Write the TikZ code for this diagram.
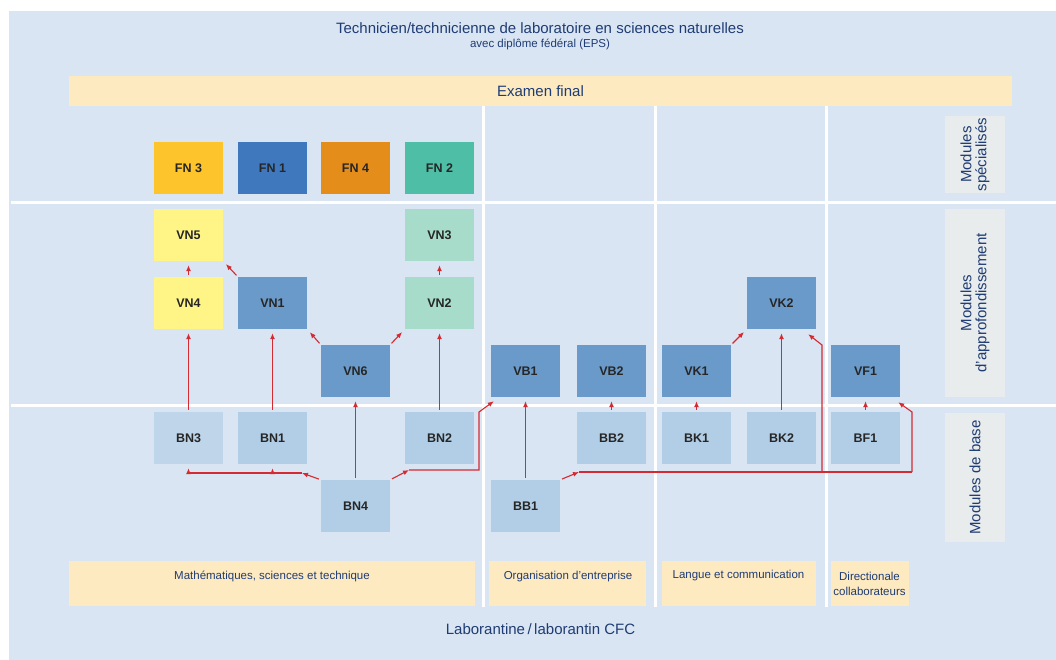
\documentclass[tikz,border=0pt]{standalone}
\usepackage{fontspec}
\setmainfont{Liberation Sans}
\usetikzlibrary{arrows.meta,positioning}

\definecolor{bgblue}{HTML}{D9E5F2}
\definecolor{bandyellow}{HTML}{FDEAC1}
\definecolor{sidegray}{HTML}{E9ECEC}
\definecolor{titleblue}{HTML}{1F3C74}
\definecolor{arrowred}{HTML}{D52A32}
\definecolor{fnYellow}{HTML}{FDC42B}
\definecolor{fnBlue}{HTML}{3F78BD}
\definecolor{fnOrange}{HTML}{E48D1B}
\definecolor{fnGreen}{HTML}{4EBFA6}
\definecolor{vnYellow}{HTML}{FFF586}
\definecolor{vnGreen}{HTML}{A6DCC9}
\definecolor{vBlue}{HTML}{6A9AC9}
\definecolor{bBlue}{HTML}{B2CEE6}

\begin{document}
\begin{tikzpicture}[
		x=1pt,y=-1pt,
		module/.style = {rectangle, minimum width=69pt, minimum height=52pt, inner sep=0pt,
			font=\bfseries\fontsize{12.5}{14}\selectfont, text=black!85},
		band/.style = {rectangle, fill=bandyellow, inner sep=0pt},
		bandtext/.style = {anchor=center, align=center, text=titleblue, font=\fontsize{11.5}{15}\selectfont},
		side/.style = {rectangle, fill=sidegray, rotate=90, inner sep=0pt, align=center,
			text=titleblue, font=\fontsize{15}{15}\selectfont},
		sep/.style = {draw=white, line width=3pt},
		dep/.style = {color=arrowred, line width=1.1pt, -{Latex[length=6pt,width=5pt]},
			shorten >=4pt, shorten <=2pt},
		tap/.style = {dep, shorten <=0pt},
		link/.style = {draw=arrowred, line width=1.1pt}
	]
	\useasboundingbox (0,0) rectangle (1056,660);
	\fill [bgblue] (9,11) rectangle (1056,660);

	% titles and bands
	\node (title) [text=titleblue, font=\fontsize{15}{15}\selectfont] at (540,28)
		{Technicien/technicienne de laboratoire en sciences naturelles};
	\node (subtitle) [text=titleblue, font=\fontsize{11.5}{12}\selectfont] at (540,44)
		{avec diplôme fédéral (EPS)};
	\node (exam) [band, minimum width=943pt, minimum height=30pt] at (540.5,91) {};
	\node (examText) [text=titleblue, font=\fontsize{15}{15}\selectfont] at (exam) {Examen final};

	% separators
	\draw [sep] (11,203) -- (1056,203);
	\draw [sep] (11,405) -- (1056,405);
	\draw [sep] (483,106) -- (483,607);
	\draw [sep] (655,106) -- (655,607);
	\draw [sep] (826,106) -- (826,607);

	% level labels
	\node (sideSpec) [side, minimum width=77pt, minimum height=60pt] at (975,154.5) {Modules\\spécialisés};
	\node (sideAppr) [side, minimum width=188pt, minimum height=60pt] at (975,303) {Modules\\d'approfondissement};
	\node (sideBase) [side, minimum width=129pt, minimum height=60pt] at (975,477.5) {Modules de base};

	% bottom bands
	\node (bMath) [band, minimum width=406pt, minimum height=45pt] at (272,583.5) {};
	\node (bOrg) [band, minimum width=157pt, minimum height=45pt] at (567.5,583.5) {};
	\node (bLang) [band, minimum width=154pt, minimum height=45pt] at (738.5,583.5) {};
	\node (bDir) [band, minimum width=78pt, minimum height=45pt] at (869.5,583.5) {};
	\node (tMath) [bandtext] at (272,576) {Mathématiques, sciences et technique};
	\node (tOrg) [bandtext] at (568,577) {Organisation d'entreprise};
	\node (tLang) [bandtext] at (738.5,576) {Langue et communication};
	\node (tDir) [bandtext] at (869.5,583.5) {Directionale\\collaborateurs};
	\node (cfc) [text=titleblue, font=\fontsize{15}{15}\selectfont] at (540.5,629) {Laborantine\,/\,laborantin CFC};

	% specialised modules
	\node (FN3) [module, fill=fnYellow] at (188.5,168) {FN 3};
	\node (FN1) [module, fill=fnBlue] at (272.5,168) {FN 1};
	\node (FN4) [module, fill=fnOrange] at (355.5,168) {FN 4};
	\node (FN2) [module, fill=fnGreen] at (439.5,168) {FN 2};

	% advanced modules
	\node (VN5) [module, fill=vnYellow] at (188.5,235) {VN5};
	\node (VN3) [module, fill=vnGreen] at (439.5,235) {VN3};
	\node (VN4) [module, fill=vnYellow] at (188.5,303) {VN4};
	\node (VN1) [module, fill=vBlue] at (272.5,303) {VN1};
	\node (VN2) [module, fill=vnGreen] at (439.5,303) {VN2};
	\node (VK2) [module, fill=vBlue] at (781.5,303) {VK2};
	\node (VN6) [module, fill=vBlue] at (355.5,371) {VN6};
	\node (VB1) [module, fill=vBlue] at (525.5,371) {VB1};
	\node (VB2) [module, fill=vBlue] at (611.5,371) {VB2};
	\node (VK1) [module, fill=vBlue] at (696.5,371) {VK1};
	\node (VF1) [module, fill=vBlue] at (865.5,371) {VF1};

	% basic modules
	\node (BN3) [module, fill=bBlue!85!white] at (188.5,438) {BN3};
	\node (BN1) [module, fill=bBlue] at (272.5,438) {BN1};
	\node (BN2) [module, fill=bBlue] at (439.5,438) {BN2};
	\node (BB2) [module, fill=bBlue] at (611.5,438) {BB2};
	\node (BK1) [module, fill=bBlue] at (696.5,438) {BK1};
	\node (BK2) [module, fill=bBlue] at (781.5,438) {BK2};
	\node (BF1) [module, fill=bBlue] at (865.5,438) {BF1};
	\node (BN4) [module, fill=bBlue] at (355.5,506) {BN4};
	\node (BB1) [module, fill=bBlue] at (525.5,506) {BB1};

	% junctions
	\coordinate (jL) at (302,473);
	\coordinate (jR) at (409,470);
	\coordinate (kR) at (479,470);
	\coordinate (kRu) at (479,412);
	\coordinate (jB) at (579,472);
	\coordinate (kK) at (822,472);
	\coordinate (kKu) at (822,345);
	\coordinate (kF) at (912,472);
	\coordinate (kFu) at (912,412);

	\path [dep] (VN4) edge (VN5);
	\path [dep] (VN1.north west) edge (VN5.south east);
	\path [dep] (BN3) edge (VN4);
	\path [dep] (BN1) edge (VN1);
	\path [dep] (BN4) edge (VN6);
	\path [dep] (VN6.north west) edge (VN1.south east);
	\path [dep] (VN6.north east) edge (VN2.south west);
	\path [dep] (VN2) edge (VN3);
	\path [dep] (BN2) edge (VN2);
	\path [dep] (BB1) edge (VB1);
	\path [dep] (BB2) edge (VB2);
	\path [dep] (BK1) edge (VK1);
	\path [dep] (BK2) edge (VK2);
	\path [dep] (BF1) edge (VF1);
	\path [dep] (VK1.north east) edge (VK2.south west);

	\path [dep, shorten >=0pt] (BN4.north west) edge (jL);
	\draw [link] (jL) -- (jL -| BN3);
	\path [tap] (jL -| BN3) edge (BN3);
	\path [tap] (jL -| BN1) edge (BN1);

	\path [dep, shorten >=0pt] (BN4.north east) edge (jR);
	\draw [tap, shorten >=0pt] (jR) -- (kR) -- (kRu) -- ([shift={(3pt,-4pt)}]VB1.south west);

	\path [dep, shorten >=0pt] (BB1.north east) edge (jB);
	\draw [link] (jB) -- (kF);
	\draw [tap, shorten >=0pt] (kK) -- (kKu) -- ([shift={(-8pt,-5pt)}]VK2.south east);
	\draw [tap, shorten >=0pt] (kF) -- (kFu) -- ([shift={(-2pt,-5pt)}]VF1.south east);
\end{tikzpicture}
\end{document}
